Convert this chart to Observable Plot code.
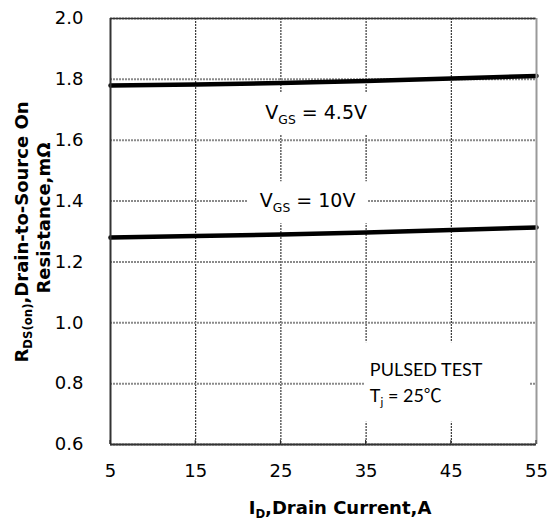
<!DOCTYPE html>
<html><head><meta charset="utf-8">
<script src="https://cdn.jsdelivr.net/npm/d3@7"></script>
<script src="https://cdn.jsdelivr.net/npm/@observablehq/plot@0.6"></script>
<style>html,body{margin:0;padding:0;background:#fff}#chart svg{display:block}</style>
</head><body><div id="chart"></div>
<script>
// ---- data ----
const drainCurrentA = [5, 15, 25, 35, 45, 55];
const rdsOnVgs45 = [1.780, 1.783, 1.788, 1.795, 1.803, 1.811];
const rdsOnVgs10 = [1.280, 1.285, 1.290, 1.297, 1.305, 1.313];
const seriesNames = ["4.5V", "10V"];
const xTickValues = [5, 15, 25, 35, 45, 55];
const yTickValues = [0.6, 0.8, 1.0, 1.2, 1.4, 1.6, 1.8, 2.0];
const curveLabelText = ["4.5V", "10V"];
const testConditionText = ["PULSED TEST", "25", "\u2103"];

const rows = [
  ...drainCurrentA.map((x, i) => ({id: x, rds: rdsOnVgs45[i], vgs: seriesNames[0]})),
  ...drainCurrentA.map((x, i) => ({id: x, rds: rdsOnVgs10[i], vgs: seriesNames[1]}))
];

const FONT = "'DejaVu Sans', sans-serif";
const LATO = "Lato, 'Open Sans', sans-serif";

const svg = Plot.plot({
  width: 550, height: 521,
  marginLeft: 110, marginRight: 14, marginTop: 18, marginBottom: 77,
  style: {fontFamily: FONT, fontSize: "18px", color: "#000", background: "#fff", overflow: "visible"},
  x: {domain: [5, 55]},
  y: {domain: [0.6, 2.0]},
  marks: [
    Plot.gridX(xTickValues, {stroke: "#111", strokeOpacity: 1, strokeWidth: 1, strokeDasharray: "2,1"}),
    Plot.gridY(yTickValues, {stroke: "#8a8a8a", strokeOpacity: 1, strokeWidth: 2, strokeDasharray: "2,1"}),
    Plot.line(rows, {x: "id", y: "rds", z: "vgs", stroke: "#000", strokeWidth: 4.5}),
    Plot.axisX(xTickValues, {tickSize: 0, tickPadding: 20, label: null, fontSize: 18, tickFormat: d => String(d)}),
    Plot.axisY(yTickValues, {tickSize: 0, tickPadding: 27, label: null, fontSize: 18, tickFormat: d3.format(".1f")}),
    Plot.ruleY([0.6], {stroke: "#333", strokeWidth: 2}),
    Plot.ruleY([2.0], {stroke: "#333", strokeWidth: 1.5}),
    Plot.ruleX([5], {stroke: "#333", strokeWidth: 2}),
    Plot.ruleX([55], {stroke: "#9a9a9a", strokeWidth: 2})
  ]
});
document.getElementById("chart").appendChild(svg);

const sx = svg.scale("x"), sy = svg.scale("y");
const root = d3.select(svg);

function rich(sel, parts, shift) {
  let down = false;
  parts.forEach(([t, sub, fam]) => {
    const ts = sel.append("tspan").text(t);
    if (fam) ts.attr("font-family", fam);
    if (sub && !down) { ts.attr("font-size", "0.65em").attr("dy", shift); down = true; }
    else if (!sub && down) { ts.attr("dy", -shift); down = false; }
  });
  return sel;
}

// annotation layer
const ann = root.append("g");
function boxed(parts, x, y, font, size, pad) {
  const g = ann.append("g");
  const rect = g.append("rect").attr("fill", "#fff");
  const t = g.append("text").attr("x", x).attr("y", y).attr("text-anchor", "middle")
    .attr("font-family", font).attr("font-size", size).attr("fill", "#000");
  rich(t, parts, 5);
  const bb = t.node().getBBox();
  const [l, r, tp, bt] = pad;
  rect.attr("x", bb.x - l).attr("y", bb.y - tp).attr("width", bb.width + l + r).attr("height", bb.height + tp + bt);
}

boxed([["V"], ["GS", 1], [" = " + curveLabelText[0]]], sx.apply(29.2), sy.apply(1.668), FONT, 19, [12, 12, 8, 8]);
boxed([["V"], ["GS", 1], [" = " + curveLabelText[1]]], sx.apply(28.2), sy.apply(1.378), FONT, 19, [12, 12, 8, 8]);

// test conditions block
const tc = ann.append("g");
const tcRect = tc.append("rect").attr("fill", "#fff");
tc.append("text").attr("x", sx.apply(35.5)).attr("y", sy.apply(0.823)).attr("text-anchor", "start")
  .attr("font-family", LATO).attr("font-size", 18).text(testConditionText[0]);
rich(tc.append("text").attr("x", sx.apply(35.5)).attr("y", sy.apply(0.739)).attr("text-anchor", "start")
  .attr("font-family", LATO).attr("font-size", 18),
  [["T"], ["j", 1], [" = " + testConditionText[1]], [testConditionText[2], 0, "'Noto Sans CJK SC', sans-serif"]], 4);
{
  const bb = tc.node().getBBox();
  tcRect.attr("x", bb.x - 5).attr("y", bb.y - 16).attr("width", 165).attr("height", bb.height + 30);
}

// small inward ticks on the bottom axis
root.append("g").selectAll("line").data(xTickValues).join("line")
  .attr("x1", d => sx.apply(d)).attr("x2", d => sx.apply(d))
  .attr("y1", sy.apply(0.6)).attr("y2", sy.apply(0.6) - 4)
  .attr("stroke", "#222").attr("stroke-width", 1);

// axis titles
rich(root.append("text").attr("x", 340).attr("y", 514).attr("text-anchor", "middle")
  .attr("font-family", FONT).attr("font-weight", "bold").attr("font-size", 18),
  [["I"], ["D", 1], [",Drain Current,A"]], 4);

rich(root.append("text").attr("transform", "translate(28,232) rotate(-90)").attr("text-anchor", "middle")
  .attr("font-family", FONT).attr("font-weight", "bold").attr("font-size", 18),
  [["R"], ["DS(on)", 1], [",Drain-to-Source On"]], 4);
root.append("text").attr("transform", "translate(50,218) rotate(-90)").attr("text-anchor", "middle")
  .attr("font-family", FONT).attr("font-weight", "bold").attr("font-size", 18)
  .text("Resistance,m\u03A9");
</script>
</body></html>
